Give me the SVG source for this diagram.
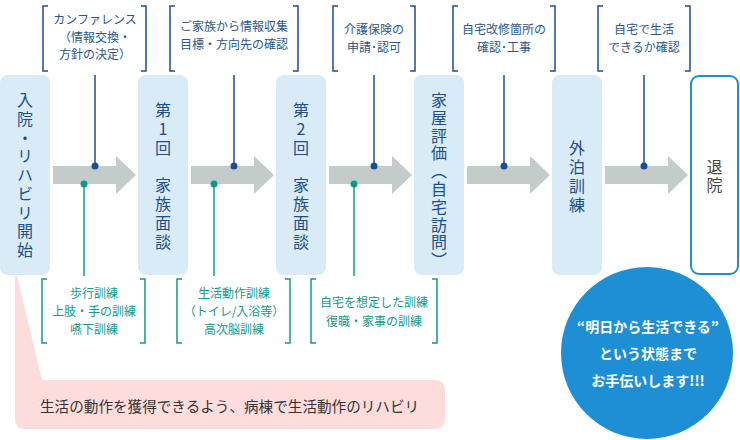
<svg xmlns="http://www.w3.org/2000/svg" width="740" height="440" viewBox="0 0 740 440">
<defs>
<style>
.node{fill:#d8ebf7}
.ntext{font-family:"Noto Sans CJK JP","Noto Sans",sans-serif;font-size:16px;fill:#1c4f85;writing-mode:vertical-rl;text-orientation:upright}
.arrow{fill:#c4cbcb}
.tb{fill:none;stroke:#1f4f8c;stroke-width:1.5}
.bb{fill:none;stroke:#129a89;stroke-width:1.5}
.ttext{font-family:"Noto Sans CJK JP","Noto Sans",sans-serif;font-size:12px;fill:#2a5788;text-anchor:middle}
.btext{font-family:"Noto Sans CJK JP","Noto Sans",sans-serif;font-size:12px;fill:#129a89;text-anchor:middle}
.bline{stroke:#1f4f8c;stroke-width:1.5}
.gline{stroke:#129a89;stroke-width:1.5}
.bdot{fill:#1a4f96}
.gdot{fill:#0e9a89}
</style>
</defs>
<rect width="740" height="440" fill="#ffffff"/>

<!-- pink callout -->
<g id="callout">
<path d="M15,276 L17,276 L42,380 L435,380 Q445,380 445,390 L445,419 Q445,429 435,429 L25,429 Q15,429 15,419 Z" fill="#fddcdc"/>
<text x="40" y="412" font-family="'Noto Sans CJK JP','Noto Sans',sans-serif" font-size="14.6" fill="#333333">生活の動作を獲得できるよう、病棟で生活動作のリハビリ</text>
</g>

<!-- connectors -->
<g id="connectors">
<path class="arrow" d="M53,166 H116 V156 L136,175 L116,194 V184 H53 Z"/>
<path class="arrow" d="M191,166 H254 V156 L274,175 L254,194 V184 H191 Z"/>
<path class="arrow" d="M329,166 H392 V156 L412,175 L392,194 V184 H329 Z"/>
<path class="arrow" d="M467,166 H530 V156 L550,175 L530,194 V184 H467 Z"/>
<path class="arrow" d="M605,166 H668 V156 L688,175 L668,194 V184 H605 Z"/>
<line class="bline" x1="95" y1="75" x2="95" y2="166"/>
<line class="bline" x1="234" y1="75" x2="234" y2="166"/>
<line class="bline" x1="374" y1="75" x2="374" y2="166"/>
<line class="bline" x1="504" y1="75" x2="504" y2="166"/>
<line class="bline" x1="644" y1="75" x2="644" y2="166"/>
<circle class="bdot" cx="95" cy="166" r="3.5"/>
<circle class="bdot" cx="234" cy="166" r="3.5"/>
<circle class="bdot" cx="374" cy="166" r="3.5"/>
<circle class="bdot" cx="504" cy="166" r="3.5"/>
<circle class="bdot" cx="644" cy="166" r="3.5"/>
<line class="gline" x1="84" y1="184" x2="84" y2="276"/>
<line class="gline" x1="214" y1="184" x2="214" y2="276"/>
<line class="gline" x1="354" y1="184" x2="354" y2="276"/>
<circle class="gdot" cx="84" cy="184" r="3.5"/>
<circle class="gdot" cx="214" cy="184" r="3.5"/>
<circle class="gdot" cx="354" cy="184" r="3.5"/>
</g>

<!-- top labels -->
<g id="top1">
<path class="tb" d="M48,6 H43 V71 H48 M141,6 H146 V71 H141"/>
<text class="ttext" x="95" y="24">カンファレンス</text>
<text class="ttext" x="95" y="42">（情報交換・</text>
<text class="ttext" x="95" y="59">方針の決定）</text>
</g>
<g id="top2">
<path class="tb" d="M175,6 H170 V71 H175 M293,6 H298 V71 H293"/>
<text class="ttext" x="234" y="31">ご家族から情報収集</text>
<text class="ttext" x="234" y="49">目標・方向先の確認</text>
</g>
<g id="top3">
<path class="tb" d="M338,6 H333 V71 H338 M410,6 H415 V71 H410"/>
<text class="ttext" x="374" y="34">介護保険の</text>
<text class="ttext" x="374" y="52">申請･認可</text>
</g>
<g id="top4">
<path class="tb" d="M458,6 H453 V71 H458 M550,6 H555 V71 H550"/>
<text class="ttext" x="504" y="34">自宅改修箇所の</text>
<text class="ttext" x="504" y="52">確認･工事</text>
</g>
<g id="top5">
<path class="tb" d="M603,6 H598 V71 H603 M685,6 H690 V71 H685"/>
<text class="ttext" x="644" y="34">自宅で生活</text>
<text class="ttext" x="644" y="52">できるか確認</text>
</g>

<!-- bottom labels -->
<g id="bot1">
<path class="bb" d="M47,279 H42 V343 H47 M140,279 H145 V343 H140"/>
<text class="btext" x="94" y="298">歩行訓練</text>
<text class="btext" x="94" y="316">上肢・手の訓練</text>
<text class="btext" x="94" y="334">嚥下訓練</text>
</g>
<g id="bot2">
<path class="bb" d="M182,279 H177 V343 H182 M285,279 H290 V343 H285"/>
<text class="btext" x="234" y="298">生活動作訓練</text>
<text class="btext" x="234" y="316">（トイレ/入浴等）</text>
<text class="btext" x="234" y="334">高次脳訓練</text>
</g>
<g id="bot3">
<path class="bb" d="M316,279 H311 V343 H316 M432,279 H437 V343 H432"/>
<text class="btext" x="374" y="307">自宅を想定した訓練</text>
<text class="btext" x="374" y="326">復職・家事の訓練</text>
</g>

<!-- nodes -->
<g id="n1">
<rect class="node" x="0" y="75" width="50" height="200" rx="8"/>
<text class="ntext" x="25" y="92" letter-spacing="2.75">入院・リハビリ開始</text>
</g>
<g id="n2">
<rect class="node" x="138" y="75" width="50" height="200" rx="8"/>
<text class="ntext" x="163" y="102" letter-spacing="2.8">第1回　家族面談</text>
</g>
<g id="n3">
<rect class="node" x="276" y="75" width="50" height="200" rx="8"/>
<text class="ntext" x="301" y="102" letter-spacing="2.8">第2回　家族面談</text>
</g>
<g id="n4">
<rect class="node" x="414" y="75" width="50" height="200" rx="8"/>
<text class="ntext" x="439" y="92" letter-spacing="1.8">家屋評価︵自宅訪問︶</text>
</g>
<g id="n5">
<rect class="node" x="552" y="75" width="50" height="200" rx="8"/>
<text class="ntext" x="577" y="140" letter-spacing="3">外泊訓練</text>
</g>
<g id="n6">
<rect x="691" y="76" width="47" height="198" rx="8" fill="#ffffff" stroke="#1e8fd5" stroke-width="2"/>
<text class="ntext" x="714.5" y="159" letter-spacing="2" style="fill:#444444">退院</text>
</g>

<!-- circle message -->
<g id="message">
<circle cx="647" cy="353" r="86" fill="#1e8fd5"/>
<g font-family="'Noto Sans CJK JP','Noto Sans',sans-serif" font-size="14" font-weight="bold" fill="#ffffff" text-anchor="middle">
<text x="648" y="332">“明日から生活できる”</text>
<text x="648" y="359">という状態まで</text>
<text x="648" y="386">お手伝いします!!!</text>
</g>
</g>
</svg>
